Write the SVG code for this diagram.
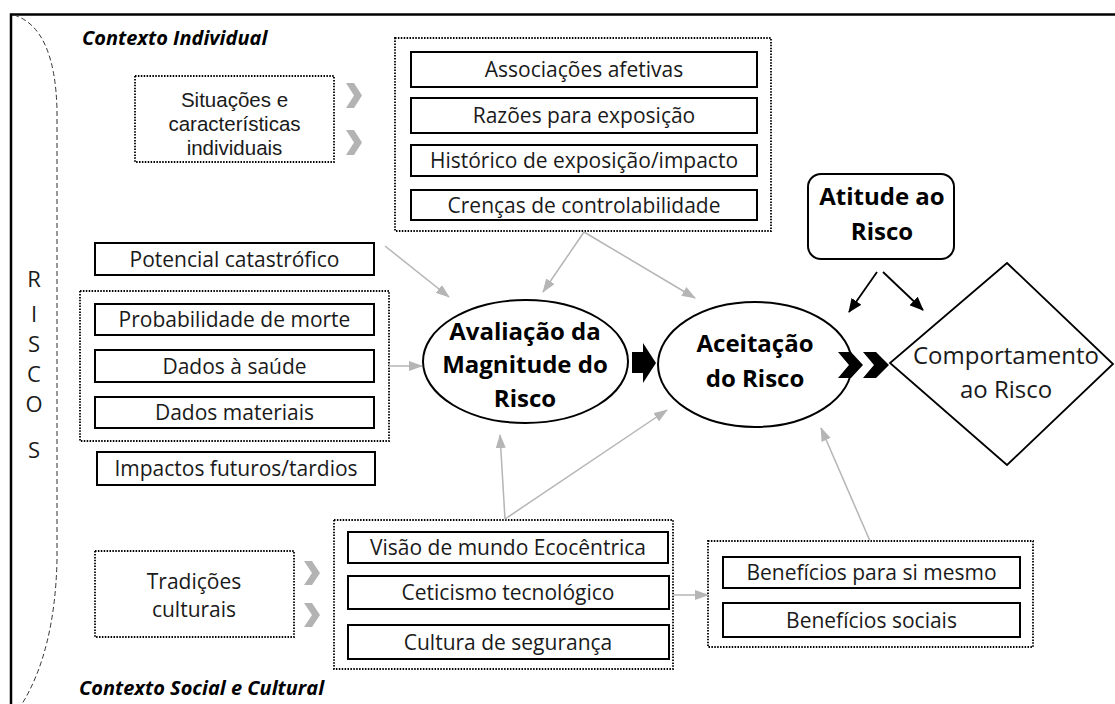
<svg xmlns="http://www.w3.org/2000/svg" width="1115" height="704" viewBox="0 0 1115 704">
<style>
text{font-family:"Open Sans","Liberation Sans",sans-serif;fill:#1a1a1a;text-anchor:middle}
.r{font-size:21px}
.s{font-family:"Liberation Sans",Arial,sans-serif;font-size:20.5px}
.b{font-size:24px;font-weight:bold;fill:#000}
.big{font-size:24px}
.ris{font-size:22px}
.ctx{font-size:20px;font-weight:bold;font-style:italic;text-anchor:start;fill:#000}
.box{fill:#fff;stroke:#000;stroke-width:2}
.dot{fill:none;stroke:#000;stroke-width:1.8;stroke-dasharray:1.5 1.4}
.g{stroke:#b5b5b5;stroke-width:1.5;fill:none}
.k{stroke:#000;stroke-width:1.8;fill:none}
.chev{fill:#b3b3b3}
</style>
<defs>
<marker id="ga" viewBox="0 0 14 10" refX="13" refY="5" markerWidth="14" markerHeight="10" markerUnits="userSpaceOnUse" orient="auto"><path d="M0,0 L14,5 L0,10 z" fill="#b5b5b5"/></marker>
<marker id="ka" viewBox="0 0 14 12" refX="13" refY="6" markerWidth="14" markerHeight="12" markerUnits="userSpaceOnUse" orient="auto"><path d="M0,0 L14,6 L0,12 z" fill="#000"/></marker>
</defs>
<rect width="1115" height="704" fill="#fff"/>
<g id="frame">
<path d="M11,704 L11,14.5 L1115,14.5" fill="none" stroke="#000" stroke-width="2.5"/>
<path d="M14,15 Q55,28 57,110 L57,560 Q55,650 22,704" fill="none" stroke="#333" stroke-width="1" stroke-dasharray="5 3"/>
</g>
<g id="riscos">
<text class="ris" x="34" y="287">R</text>
<text class="ris" x="34" y="322">I</text>
<text class="ris" x="34" y="352">S</text>
<text class="ris" x="34" y="382">C</text>
<text class="ris" x="34" y="412">O</text>
<text class="ris" x="34" y="458">S</text>
</g>
<g id="labels">
<text class="ctx" x="82" y="45">Contexto Individual</text>
<text class="ctx" x="79" y="695">Contexto Social e Cultural</text>
</g>
<g id="situacoes">
<rect class="dot" x="135" y="76" width="199" height="86"/>
<text class="s" x="234.5" y="107">Situações e</text>
<text class="s" x="234.5" y="131">características</text>
<text class="s" x="234.5" y="155">individuais</text>
<polygon class="chev" points="346,83 354,83 362,95.5 354,108 346,108 354,95.5"/>
<polygon class="chev" points="346,130 354,130 362,142.5 354,155 346,155 354,142.5"/>
</g>
<g id="individual-group">
<rect class="dot" x="395" y="38" width="376" height="193"/>
<rect class="box" x="411" y="52" width="346" height="35"/>
<text class="r" x="584" y="77">Associações afetivas</text>
<rect class="box" x="411" y="98" width="346" height="35"/>
<text class="r" x="584" y="123">Razões para exposição</text>
<rect class="box" x="411" y="145" width="346" height="31"/>
<text class="r" x="584" y="168">Histórico de exposição/impacto</text>
<rect class="box" x="411" y="190" width="346" height="30"/>
<text class="r" x="584" y="212.5">Crenças de controlabilidade</text>
</g>
<g id="potencial">
<rect class="box" x="95" y="243" width="279" height="32"/>
<text class="r" x="234.5" y="266.5">Potencial catastrófico</text>
</g>
<g id="dados-group">
<rect class="dot" x="80" y="291" width="309" height="150"/>
<rect class="box" x="95" y="304" width="279" height="31"/>
<text class="r" x="234.5" y="327">Probabilidade de morte</text>
<rect class="box" x="95" y="350" width="279" height="32"/>
<text class="r" x="234.5" y="373.5">Dados à saúde</text>
<rect class="box" x="95" y="397" width="279" height="31"/>
<text class="r" x="234.5" y="420">Dados materiais</text>
</g>
<g id="impactos">
<rect class="box" x="97" y="452" width="278" height="33"/>
<text class="r" x="236" y="476">Impactos futuros/tardios</text>
</g>
<g id="tradicoes">
<rect class="dot" x="95" y="551" width="199" height="86"/>
<text class="r" x="194" y="589">Tradições</text>
<text class="r" x="194" y="617">culturais</text>
<polygon class="chev" points="304,561 312,561 320,573 312,585 304,585 312,573"/>
<polygon class="chev" points="304,603 312,603 320,615 312,627 304,627 312,615"/>
</g>
<g id="social-group">
<rect class="dot" x="334" y="520" width="339" height="149"/>
<rect class="box" x="348" y="532" width="320" height="31"/>
<text class="r" x="508" y="555">Visão de mundo Ecocêntrica</text>
<rect class="box" x="348" y="576" width="321" height="33"/>
<text class="r" x="508" y="600">Ceticismo tecnológico</text>
<rect class="box" x="348" y="625" width="321" height="34"/>
<text class="r" x="508" y="649.5">Cultura de segurança</text>
</g>
<g id="beneficios-group">
<rect class="dot" x="708" y="541" width="325" height="106"/>
<rect class="box" x="723" y="557" width="297" height="31"/>
<text class="r" x="871.5" y="580">Benefícios para si mesmo</text>
<rect class="box" x="723" y="603" width="297" height="34"/>
<text class="r" x="871.5" y="627.5">Benefícios sociais</text>
</g>
<g id="avaliacao">
<ellipse cx="525.5" cy="361.5" rx="102.5" ry="61.5" fill="#fff" stroke="#000" stroke-width="2"/>
<text class="b" x="525" y="340">Avaliação da</text>
<text class="b" x="525" y="373">Magnitude do</text>
<text class="b" x="525" y="407">Risco</text>
</g>
<g id="aceitacao">
<ellipse cx="755" cy="364.5" rx="97" ry="62.5" fill="#fff" stroke="#000" stroke-width="2"/>
<text class="b" x="755" y="352">Aceitação</text>
<text class="b" x="755" y="387">do Risco</text>
</g>
<g id="atitude">
<rect x="808" y="174" width="146" height="85" rx="13" fill="#fff" stroke="#000" stroke-width="2"/>
<text class="b" x="882" y="205">Atitude ao</text>
<text class="b" x="882" y="240">Risco</text>
</g>
<g id="comportamento">
<polygon points="1007,263 1113,364 1007,465 890,363" fill="#fff" stroke="#000" stroke-width="1.8"/>
<text class="big" x="1006" y="364">Comportamento</text>
<text class="big" x="1006" y="398">ao Risco</text>
</g>
<g id="connectors">
<line class="g" x1="385" y1="246" x2="449" y2="297" marker-end="url(#ga)"/>
<line class="g" x1="584" y1="232" x2="543" y2="292" marker-end="url(#ga)"/>
<line class="g" x1="584" y1="232" x2="695" y2="298" marker-end="url(#ga)"/>
<line class="g" x1="389" y1="366" x2="422" y2="366" marker-end="url(#ga)"/>
<line class="g" x1="505" y1="519" x2="500" y2="435" marker-end="url(#ga)"/>
<line class="g" x1="505" y1="519" x2="667" y2="410" marker-end="url(#ga)"/>
<line class="g" x1="870" y1="541" x2="821" y2="428" marker-end="url(#ga)"/>
<line class="g" x1="673" y1="595" x2="708" y2="595" marker-end="url(#ga)"/>
<line class="k" x1="877" y1="272" x2="849" y2="312" marker-end="url(#ka)"/>
<line class="k" x1="883" y1="272" x2="923" y2="310" marker-end="url(#ka)"/>
<polygon points="632,352 643,352 643,343 656,363 643,383 643,373 632,373" fill="#000"/>
<polygon points="838,352 851,352 863,365 851,378 838,378 849,365" fill="#000"/>
<polygon points="863,352 876,352 889,365 876,378 863,378 874,365" fill="#000"/>
</g>
</svg>
